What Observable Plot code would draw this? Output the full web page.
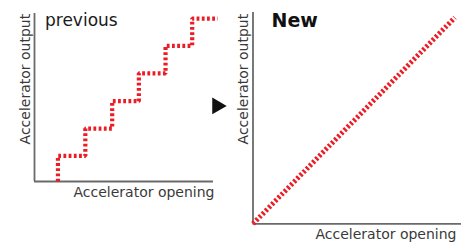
<!DOCTYPE html>
<html>
<head>
<meta charset="utf-8">
<script src="https://cdn.jsdelivr.net/npm/d3@7"></script>
<script src="https://cdn.jsdelivr.net/npm/@observablehq/plot@0.6"></script>
<style>
  html, body { margin: 0; padding: 0; background: #fff; }
  #wrap { position: relative; width: 462px; height: 242px; overflow: hidden; background: #fff; }
  #wrap svg { position: absolute; top: 0; }
</style>
</head>
<body>
<div id="wrap"></div>
<script>
// ---- data ----
const titles = ["previous", "New"];
const xLabel = "Accelerator opening";
const yLabel = "Accelerator output";
// previous: stepped response (opening %, output %)
const prevOpening = [13.1, 28.4, 43.4, 58.3, 73.2, 88.1, 102.4];
const prevOutput  = [0, 15.3, 31.5, 47.8, 64.4, 80.7, 97.0];
// new: linear response
const newOpening = [0, 96.8];
const newOutput  = [0, 97.6];
// arrow between panels (in left-panel units)
const arrowPos = [{x: 102, y: 45}];

const prevData = prevOpening.map((x, i) => ({x, y: prevOutput[i]}));
const newData = newOpening.map((x, i) => ({x, y: newOutput[i]}));

const red = "#ec1c24";
const axisGray = "#6a6a6a";
const labelColor = "#3a3a3a";
const font = "DejaVu Sans";

const left = Plot.plot({
  width: 231, height: 242,
  marginLeft: 34, marginRight: 18, marginTop: 13, marginBottom: 61,
  x: {domain: [0, 100], axis: null},
  y: {domain: [0, 100], axis: null},
  style: {fontFamily: font, background: "transparent", overflow: "visible"},
  marks: [
    Plot.ruleX([0], {y1: 0, y2: 100, stroke: axisGray, strokeWidth: 1.8}),
    Plot.ruleY([0], {x1: 0, x2: 100, stroke: axisGray, strokeWidth: 1.8}),
    Plot.line(prevData, {x: "x", y: "y", curve: "step-before", stroke: red, strokeWidth: 4.2,
      strokeDasharray: "2.8,2.4", strokeLinecap: "butt", strokeLinejoin: "miter"}),
    Plot.text([titles[0]], {text: d => d, frameAnchor: "top-left", textAnchor: "start", lineAnchor: "bottom",
      dx: 10.5, dy: 12, fontSize: 17, fill: "#1a1a1a"}),
    Plot.text([yLabel], {text: d => d, frameAnchor: "top-left", rotate: -90, textAnchor: "end", lineAnchor: "bottom",
      dx: -4.5, dy: 0.3, fontSize: 14, fill: labelColor}),
    Plot.text([xLabel], {text: d => d, frameAnchor: "bottom-right", textAnchor: "end", lineAnchor: "bottom",
      dx: 1, dy: 15, fontSize: 14, fill: labelColor}),
    Plot.dot(arrowPos, {x: "x", y: "y", symbol: "triangle", r: 6.2, rotate: 90, fill: "#111", stroke: "none"})
  ]
});
left.style.left = "0px";

const right = Plot.plot({
  width: 231, height: 242,
  marginLeft: 21.5, marginRight: 1, marginTop: 12, marginBottom: 18.7,
  x: {domain: [0, 100], axis: null},
  y: {domain: [0, 100], axis: null},
  style: {fontFamily: font, background: "transparent", overflow: "visible"},
  marks: [
    Plot.ruleX([0], {y1: 0, y2: 100, stroke: axisGray, strokeWidth: 1.8}),
    Plot.ruleY([0], {x1: 0, x2: 100, stroke: axisGray, strokeWidth: 1.8}),
    Plot.line(newData, {x: "x", y: "y", stroke: red, strokeWidth: 5,
      strokeDasharray: "2.4,2.1", strokeLinecap: "butt"}),
    Plot.text([titles[1]], {text: d => d, frameAnchor: "top-left", textAnchor: "start", lineAnchor: "bottom",
      dx: 18.5, dy: 14.7, fontSize: 19, fontWeight: "bold", fill: "#111"}),
    Plot.text([yLabel], {text: d => d, frameAnchor: "top-left", rotate: -90, textAnchor: "end", lineAnchor: "bottom",
      dx: -5.2, dy: 1.3, fontSize: 14, fill: labelColor}),
    Plot.text([xLabel], {text: d => d, frameAnchor: "bottom-right", textAnchor: "end", lineAnchor: "bottom",
      dx: -5, dy: 15, fontSize: 14, fill: labelColor})
  ]
});
right.style.left = "231px";

const wrap = document.getElementById("wrap");
wrap.appendChild(left);
wrap.appendChild(right);
</script>
</body>
</html>
